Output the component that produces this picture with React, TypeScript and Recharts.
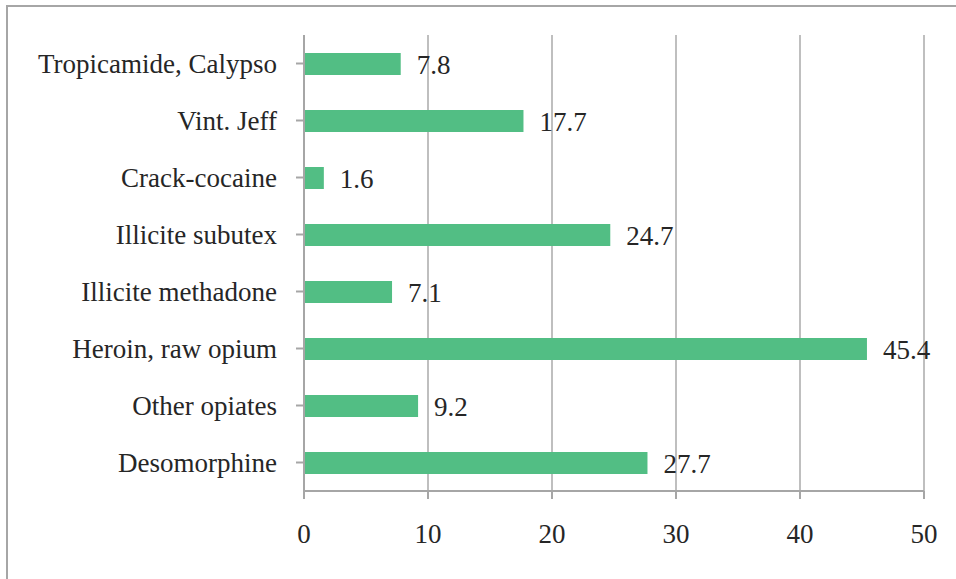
import { BarChart, Bar, XAxis, YAxis, CartesianGrid, LabelList } from 'recharts'

const categories = [
  'Tropicamide, Calypso',
  'Vint. Jeff',
  'Crack-cocaine',
  'Illicite subutex',
  'Illicite methadone',
  'Heroin, raw opium',
  'Other opiates',
  'Desomorphine',
]
const values = [7.8, 17.7, 1.6, 24.7, 7.1, 45.4, 9.2, 27.7]
const xTicks = [0, 10, 20, 30, 40, 50]

const data = categories.map((name, i) => ({ name, value: values[i] }))

const textColor = '#262626'
const fontSize = 27

export default function App() {
  return (
    <div style={{ position: 'fixed', left: 0, top: 0, width: 956, height: 579, background: '#fff', overflow: 'hidden' }}>
      {/* svg text otherwise ends up in a sans font */}
      <style>{`svg text { font-family: 'Liberation Serif', serif !important; }`}</style>
      {/* outer frame, cut off on the right and bottom like the original */}
      <div style={{ position: 'absolute', left: 6, top: 5, width: 1000, height: 700, border: '2px solid #a6a6a6' }} />
      <div style={{ position: 'absolute', left: 0, top: 0 }}>
        <BarChart
          width={956}
          height={579}
          data={data}
          layout="vertical"
          margin={{ top: 35, right: 32, left: 0, bottom: 48 }}
          barCategoryGap={0}
        >
          <CartesianGrid horizontal={false} stroke="#bfbfbf" strokeWidth={2} />
          <XAxis
            type="number"
            domain={[0, 50]}
            ticks={xTicks}
            height={40}
            stroke="#a6a6a6"
            strokeWidth={2}
            tickSize={8}
            tickMargin={25}
            tick={{ fill: textColor, fontSize }}
          />
          <YAxis
            type="category"
            dataKey="name"
            width={304}
            stroke="#a6a6a6"
            strokeWidth={2}
            tickSize={8}
            tickMargin={19}
            tick={{ fill: textColor, fontSize }}
          />
          <Bar dataKey="value" fill="#52be84" barSize={22} isAnimationActive={false}>
            <LabelList
              dataKey="value"
              position="right"
              offset={16}
              fill={textColor}
              fontSize={fontSize}
            />
          </Bar>
        </BarChart>
      </div>
    </div>
  )
}
